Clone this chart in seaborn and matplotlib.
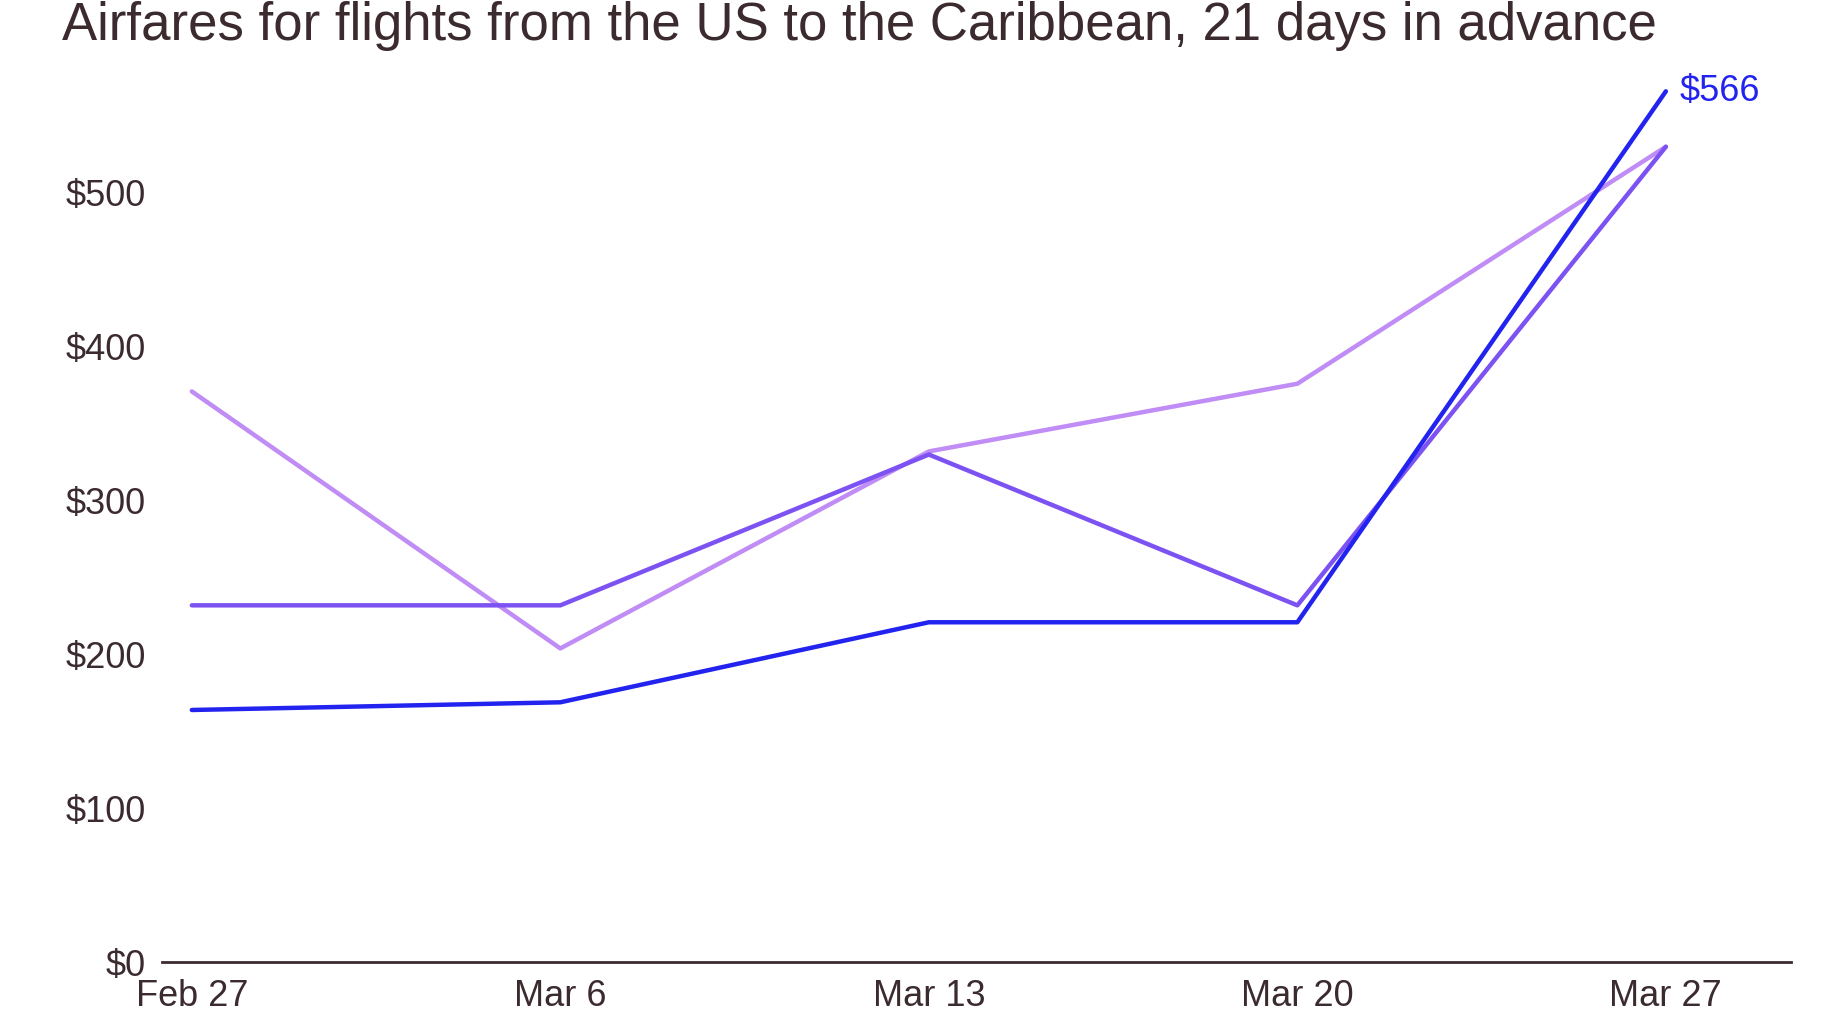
import pandas as pd
import matplotlib.pyplot as plt
import seaborn as sns

dates = ["Feb 27", "Mar 6", "Mar 13", "Mar 20", "Mar 27"]
blue = [164, 169, 221, 221, 566]
purple = [232, 232, 330, 232, 530]
lilac = [371, 204, 332, 376, 530]

rows = []
for name, vals in [("lilac", lilac), ("purple", purple), ("blue", blue)]:
    for i, v in enumerate(vals):
        rows.append({"x": i, "fare": v, "series": name})
df = pd.DataFrame(rows)

sns.set_style("white")
plt.rcParams['font.family'] = ['Liberation Sans', 'DejaVu Sans']
text_col = "#3b2a2e"

fig = plt.figure(figsize=(18.24, 10.26), dpi=100)
ax = fig.add_axes([0.089, 0.062, 0.893, 0.90])
palette = {"lilac": "#c08cf5", "purple": "#7c52f2", "blue": "#2323f0"}
sns.lineplot(data=df, x="x", y="fare", hue="series", palette=palette,
             linewidth=3.2, legend=False, ax=ax)

ax.set_xlim(-0.08, 4.34)
ax.set_ylim(0, 600)
ax.set_yticks([0, 100, 200, 300, 400, 500])
ax.set_yticklabels(["$0", "$100", "$200", "$300", "$400", "$500"])
ax.set_xticks(range(5))
ax.set_xticklabels(dates)
ax.tick_params(axis="both", length=0, labelsize=26, labelcolor=text_col)
ax.tick_params(axis="y", pad=12)
ax.tick_params(axis="x", pad=12)
ax.set_xlabel("")
ax.set_ylabel("")
for s in ["top", "right", "left"]:
    ax.spines[s].set_visible(False)
ax.spines["bottom"].set_color(text_col)
ax.spines["bottom"].set_linewidth(2)

ax.annotate(f"${blue[-1]}", xy=(4, blue[-1]), xytext=(10, 0),
            textcoords="offset points", color=palette["blue"], fontsize=26,
            va="center", ha="left")

fig.text(0.034, 0.975, "Airfares for flights from the US to the Caribbean, 21 days in advance",
         fontsize=38, color=text_col, ha="left", va="center")

fig.savefig("out.png", dpi=100)
